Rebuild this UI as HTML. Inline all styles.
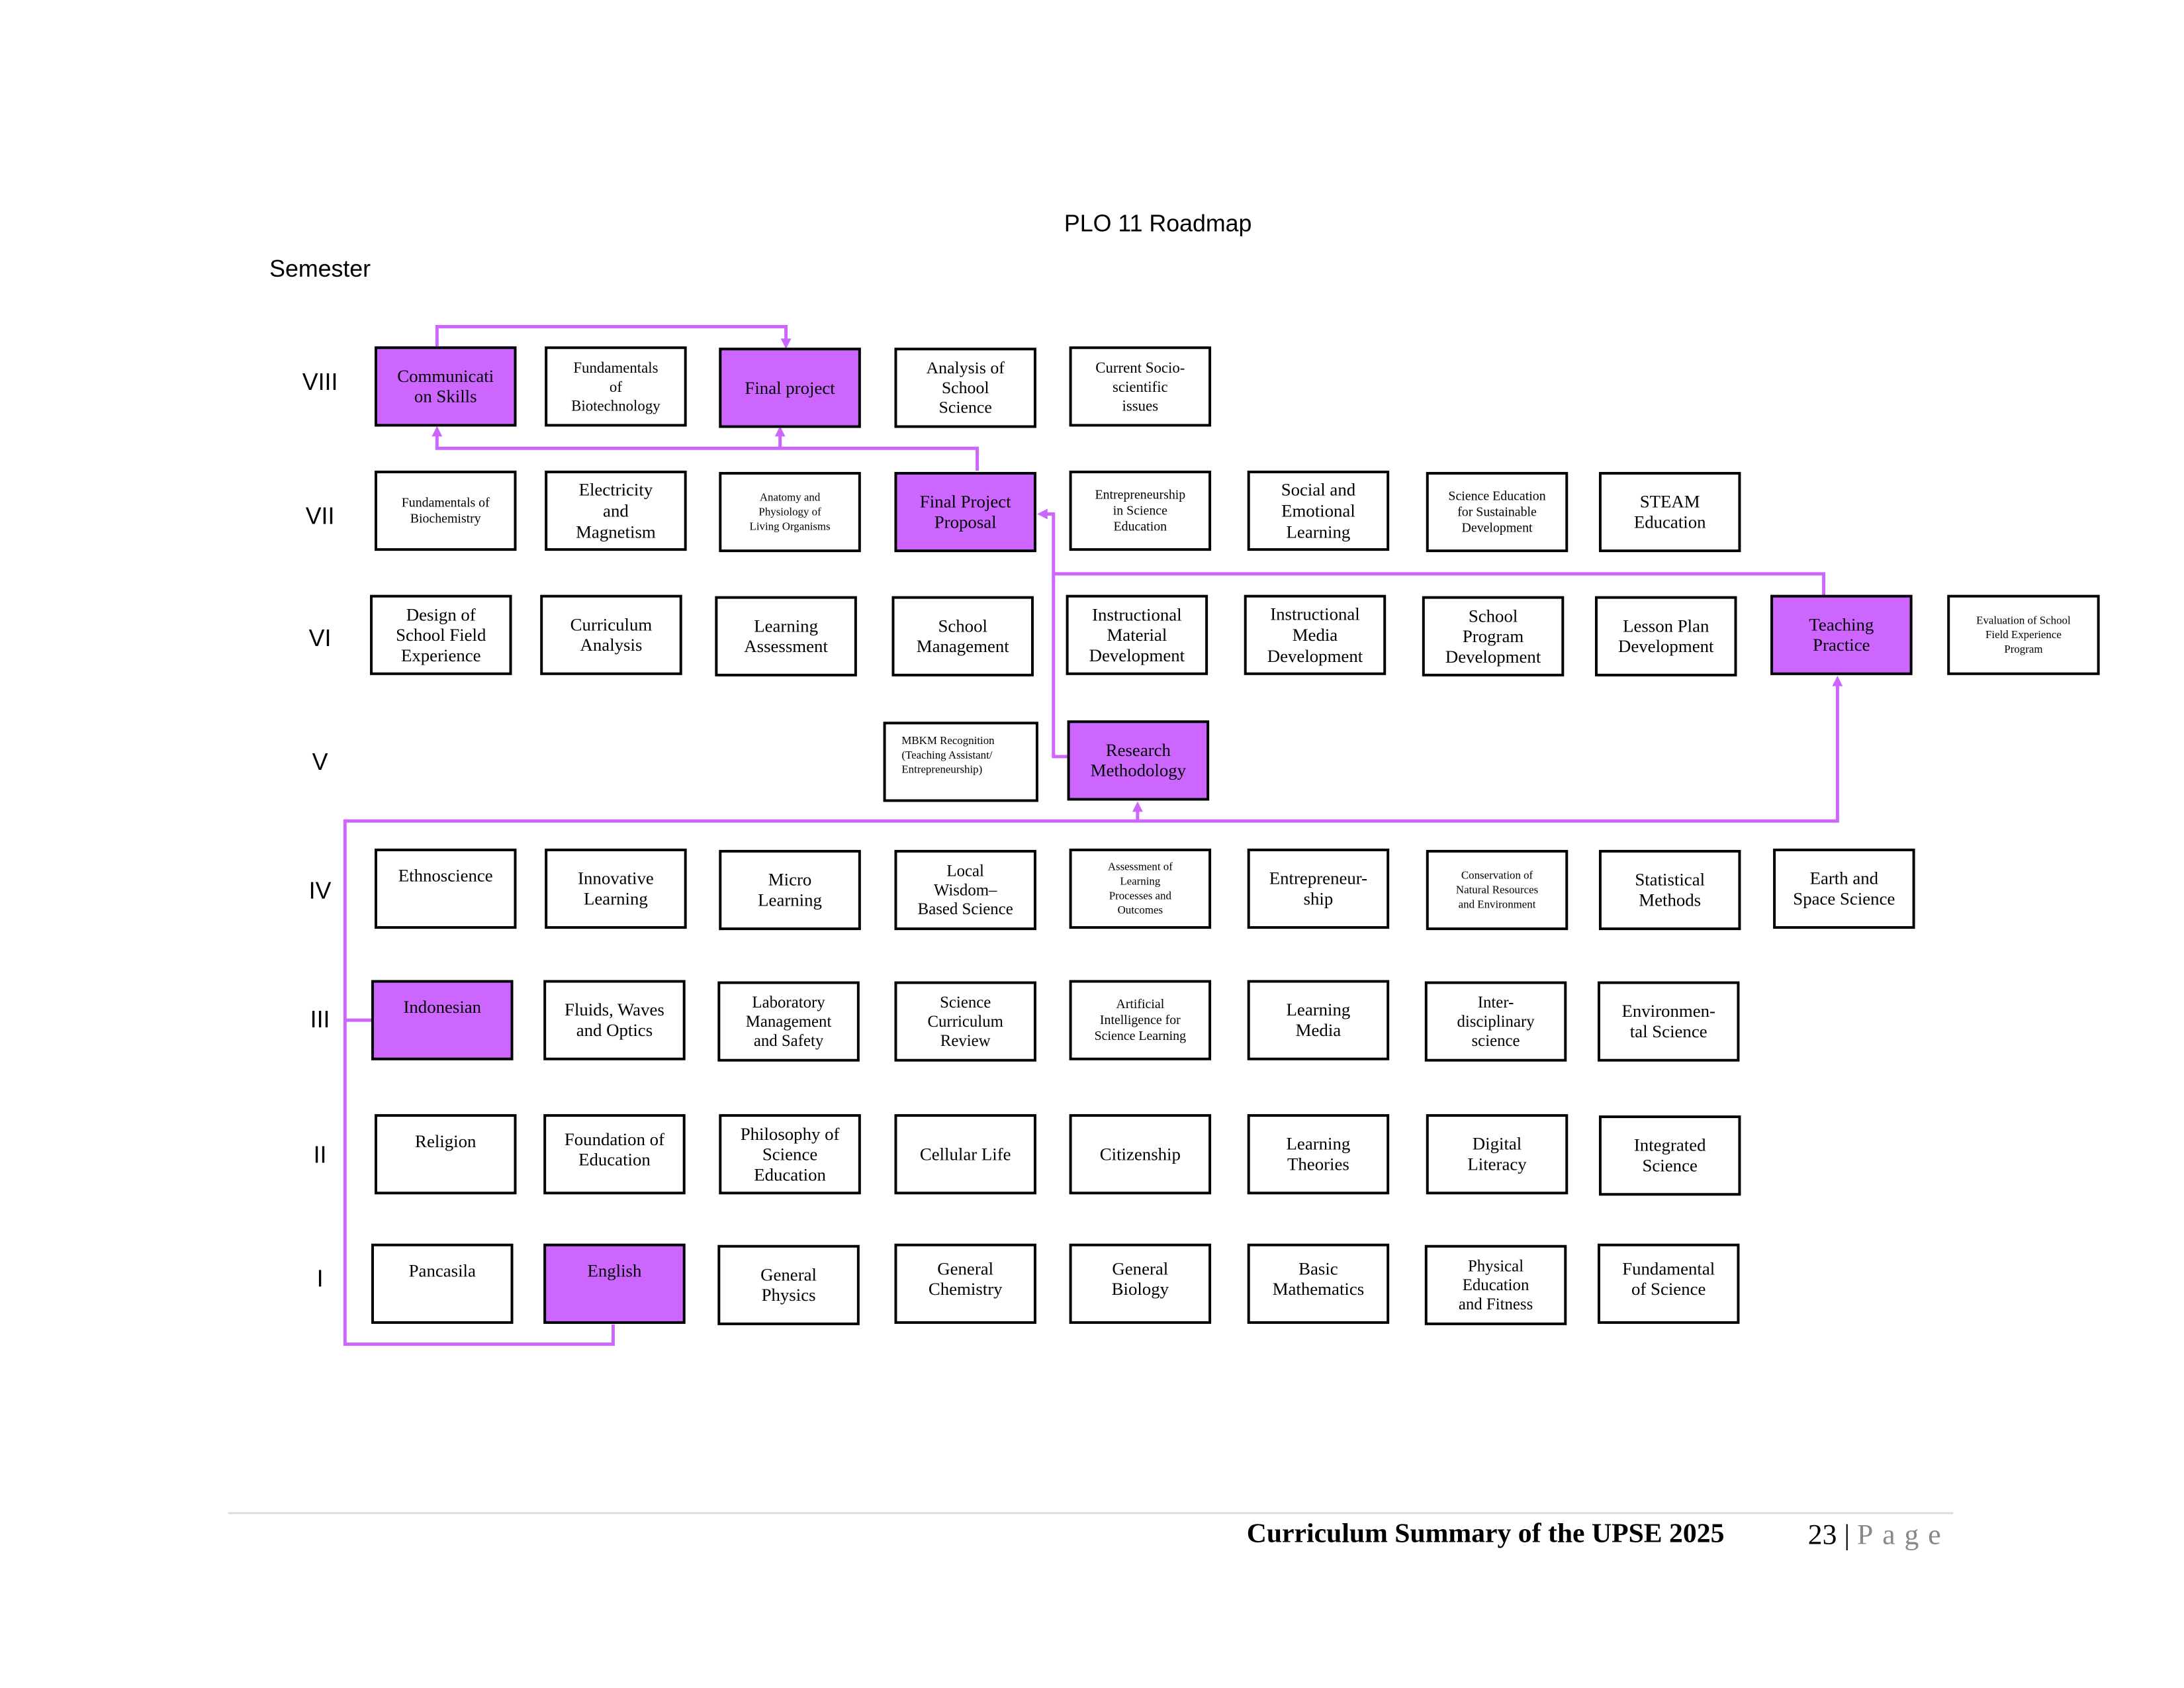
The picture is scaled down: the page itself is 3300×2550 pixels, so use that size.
<!DOCTYPE html>
<html><head><meta charset="utf-8"><style>
html,body{margin:0;width:3300px;height:2550px;background:#fff;overflow:hidden;}
#w{position:absolute;left:0;top:0;width:3300px;height:2550px;transform:translate(-3px,-3px) scale(0.993);transform-origin:0 0;font-family:"Liberation Serif",serif;}
.b{position:absolute;width:216px;height:122px;box-sizing:border-box;border:4px solid #000;background:#fff;display:flex;align-items:center;justify-content:center;text-align:center;font-size:27px;line-height:31px;color:#000;}
.p{background:#cc66ff;}
.s{font-size:20px;line-height:24px;}
.t{font-size:17px;line-height:22px;}
.top{align-items:flex-start;padding-top:22px;}
.r{position:absolute;font-family:"Liberation Sans",sans-serif;font-size:36px;width:80px;text-align:center;left:450px;}
</style></head><body><div id="w">
<div style="position:absolute;left:1565px;top:322px;width:400px;text-align:center;font-family:'Liberation Sans',sans-serif;font-size:36px">PLO 11 Roadmap</div>
<div style="position:absolute;left:413px;top:391px;font-family:'Liberation Sans',sans-serif;font-size:36px">Semester</div>
<div class="r" style="top:563px">VIII</div>
<div class="r" style="top:767px">VII</div>
<div class="r" style="top:953px">VI</div>
<div class="r" style="top:1141px">V</div>
<div class="r" style="top:1337px">IV</div>
<div class="r" style="top:1533px">III</div>
<div class="r" style="top:1739px">II</div>
<div class="r" style="top:1927px">I</div>

<svg style="position:absolute;left:0;top:0" width="3300" height="2550">
<g stroke="#cc66ff" stroke-width="5" fill="none">
<polyline points="668,530 668,500 1199,500 1199,520"/>
<polyline points="1490,719 1490,685 668,685 668,665"/>
<line x1="1190" y1="685" x2="1190" y2="665"/>
<polyline points="1630,1154 1606,1154 1606,785 1595,785"/>
<polyline points="1606,876 2778,876 2778,908"/>
<polyline points="936,2018 936,2048 528,2048 528,1252 2799,1252 2799,1045"/>
<line x1="1734" y1="1252" x2="1734" y2="1236"/>
<line x1="528" y1="1555" x2="568" y2="1555"/>
</g>
<g fill="#cc66ff">
<polygon points="1191,518 1207,518 1199,534"/>
<polygon points="660,667 676,667 668,651"/>
<polygon points="1182,667 1198,667 1190,651"/>
<polygon points="1597,777 1597,793 1581,785"/>
<polygon points="2791,1047 2807,1047 2799,1031"/>
<polygon points="1726,1238 1742,1238 1734,1222"/>
</g>
<line x1="350" y1="2305" x2="2975" y2="2305" stroke="#ddd" stroke-width="3"/>
</svg>

<div class="b p" style="left:573px;top:530px">Communicati<br>on Skills</div>
<div class="b s" style="left:832px;top:530px;font-size:23px;line-height:29px">Fundamentals<br>of<br>Biotechnology</div>
<div class="b p" style="left:1097px;top:532px">Final project</div>
<div class="b" style="left:1364px;top:532px;font-size:26px;line-height:30px">Analysis of<br>School<br>Science</div>
<div class="b s" style="left:1630px;top:530px;font-size:23px;line-height:29px">Current Socio-<br>scientific<br>issues</div>

<div class="b s" style="left:573px;top:719px">Fundamentals of<br>Biochemistry</div>
<div class="b" style="left:832px;top:719px;line-height:32px">Electricity<br>and<br>Magnetism</div>
<div class="b t" style="left:1097px;top:721px">Anatomy and<br>Physiology of<br>Living Organisms</div>
<div class="b p" style="left:1364px;top:721px">Final Project<br>Proposal</div>
<div class="b s" style="left:1630px;top:719px">Entrepreneurship<br>in Science<br>Education</div>
<div class="b" style="left:1901px;top:719px;line-height:32px">Social and<br>Emotional<br>Learning</div>
<div class="b s" style="left:2173px;top:721px">Science Education<br>for Sustainable<br>Development</div>
<div class="b" style="left:2436px;top:721px">STEAM<br>Education</div>

<div class="b" style="left:566px;top:908px;line-height:31px">Design of<br>School Field<br>Experience</div>
<div class="b" style="left:825px;top:908px">Curriculum<br>Analysis</div>
<div class="b" style="left:1091px;top:910px">Learning<br>Assessment</div>
<div class="b" style="left:1360px;top:910px">School<br>Management</div>
<div class="b" style="left:1625px;top:908px;line-height:31px">Instructional<br>Material<br>Development</div>
<div class="b" style="left:1896px;top:908px;line-height:32px">Instructional<br>Media<br>Development</div>
<div class="b" style="left:2167px;top:910px;line-height:31px">School<br>Program<br>Development</div>
<div class="b" style="left:2430px;top:910px">Lesson Plan<br>Development</div>
<div class="b p" style="left:2697px;top:908px">Teaching<br>Practice</div>
<div class="b t" style="left:2966px;top:908px;width:232px">Evaluation of School<br>Field Experience<br>Program</div>

<div class="b t" style="left:1347px;top:1101px;width:236px;justify-content:flex-start;text-align:left;padding-left:24px;padding-bottom:20px">MBKM Recognition<br>(Teaching Assistant/<br>Entrepreneurship)</div>
<div class="b p" style="left:1627px;top:1099px">Research<br>Methodology</div>

<div class="b top" style="left:573px;top:1294px">Ethnoscience</div>
<div class="b" style="left:832px;top:1294px">Innovative<br>Learning</div>
<div class="b" style="left:1097px;top:1296px">Micro<br>Learning</div>
<div class="b" style="left:1364px;top:1296px;font-size:25px;line-height:29px">Local<br>Wisdom–<br>Based Science</div>
<div class="b t" style="left:1630px;top:1294px">Assessment of<br>Learning<br>Processes and<br>Outcomes</div>
<div class="b" style="left:1901px;top:1294px">Entrepreneur-<br>ship</div>
<div class="b t" style="left:2173px;top:1296px">Conservation of<br>Natural Resources<br>and Environment</div>
<div class="b" style="left:2436px;top:1296px">Statistical<br>Methods</div>
<div class="b" style="left:2701px;top:1294px">Earth and<br>Space Science</div>

<div class="b p top" style="left:568px;top:1494px">Indonesian</div>
<div class="b" style="left:830px;top:1494px">Fluids, Waves<br>and Optics</div>
<div class="b" style="left:1095px;top:1496px;font-size:25px;line-height:29px">Laboratory<br>Management<br>and Safety</div>
<div class="b" style="left:1364px;top:1496px;font-size:25px;line-height:29px">Science<br>Curriculum<br>Review</div>
<div class="b s" style="left:1630px;top:1494px">Artificial<br>Intelligence for<br>Science Learning</div>
<div class="b" style="left:1901px;top:1494px">Learning<br>Media</div>
<div class="b" style="left:2171px;top:1496px;font-size:25px;line-height:29px">Inter-<br>disciplinary<br>science</div>
<div class="b" style="left:2434px;top:1496px">Environmen-<br>tal Science</div>

<div class="b top" style="left:573px;top:1698px">Religion</div>
<div class="b" style="left:830px;top:1698px;padding-bottom:14px">Foundation of<br>Education</div>
<div class="b" style="left:1097px;top:1698px;line-height:31px">Philosophy of<br>Science<br>Education</div>
<div class="b" style="left:1364px;top:1698px">Cellular Life</div>
<div class="b" style="left:1630px;top:1698px">Citizenship</div>
<div class="b" style="left:1901px;top:1698px">Learning<br>Theories</div>
<div class="b" style="left:2173px;top:1698px">Digital<br>Literacy</div>
<div class="b" style="left:2436px;top:1700px">Integrated<br>Science</div>

<div class="b top" style="left:568px;top:1895px">Pancasila</div>
<div class="b p top" style="left:830px;top:1895px">English</div>
<div class="b" style="left:1095px;top:1897px">General<br>Physics</div>
<div class="b" style="left:1364px;top:1895px;padding-bottom:14px">General<br>Chemistry</div>
<div class="b" style="left:1630px;top:1895px;padding-bottom:14px">General<br>Biology</div>
<div class="b" style="left:1901px;top:1895px;padding-bottom:14px">Basic<br>Mathematics</div>
<div class="b" style="left:2171px;top:1897px;font-size:25px;line-height:29px">Physical<br>Education<br>and Fitness</div>
<div class="b" style="left:2434px;top:1895px;padding-bottom:14px">Fundamental<br>of Science</div>

<div style="position:absolute;left:1900px;top:2312px;font-size:42px;font-weight:bold;white-space:nowrap">Curriculum Summary of the UPSE 2025</div>
<div style="position:absolute;left:2754px;top:2312px;font-size:44px;white-space:nowrap">23 <span style="color:#000">|</span> <span style="color:#888;letter-spacing:14px">Page</span></div>
</div></body></html>
